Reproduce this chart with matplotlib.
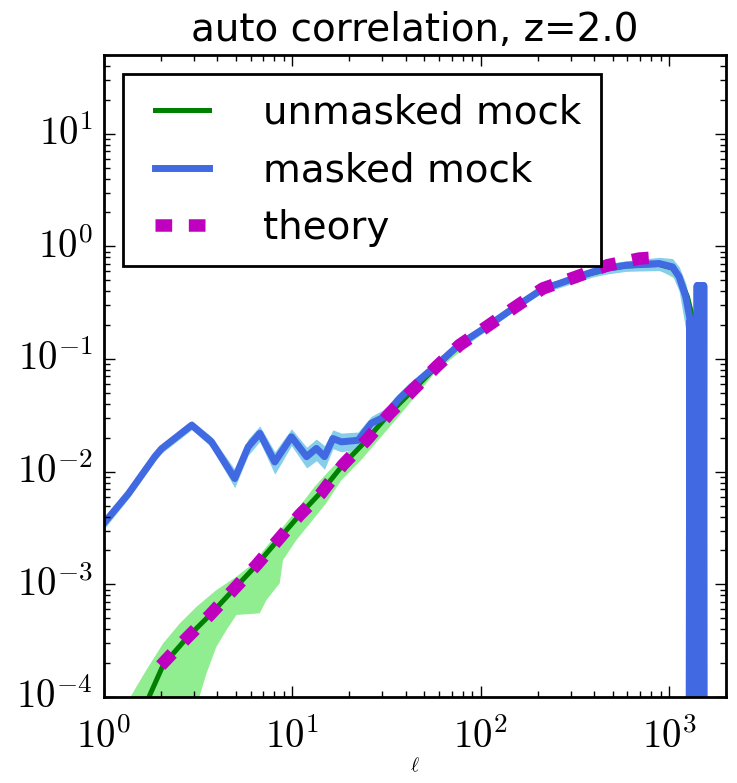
import numpy as np
import matplotlib
matplotlib.use('Agg')
import matplotlib.pyplot as plt
from matplotlib.ticker import FuncFormatter, NullFormatter

plt.style.use('classic')

# unmasked mock (green line)
green_ell = [1.6, 1.75, 2.06, 2.74, 3.65, 4.84, 6.44, 8.23, 10.9, 14.2, 18.5, 24.7,
             32.1, 43.6, 58, 77, 107, 148, 213, 320, 425, 471, 589, 692, 884, 1040,
             1128, 1249, 1327, 1384, 1412]
green_c = [7e-5, 1.04e-4, 1.92e-4, 3.32e-4, 5.35e-4, 8.89e-4, 1.48e-3, 2.39e-3, 4.12e-3,
           6.6e-3, 0.01146, 0.019, 0.0318, 0.053, 0.0853, 0.133, 0.193, 0.281, 0.423,
           0.530, 0.60, 0.63, 0.67, 0.68, 0.69, 0.64, 0.537, 0.356, 0.237, 0.147, 0.091]

# green scatter band: upper edge and lower edge
gup_ell = [1.3, 1.40, 1.68, 2.06, 2.53, 3.10, 3.95, 5.05, 6.18, 7.28, 8.91, 10.9, 13.1,
           16.1, 19.7, 24.2, 30.8, 39.4, 58, 107, 213, 471, 884, 1128, 1249, 1384, 1412]
gup_c = [7e-5, 1.04e-4, 1.74e-4, 2.99e-4, 4.51e-4, 6.33e-4, 8.89e-4, 1.17e-3, 1.53e-3,
         2.16e-3, 3.24e-3, 4.89e-3, 7.35e-3, 0.0107, 0.0150, 0.0219, 0.0340, 0.0530,
         0.092, 0.205, 0.44, 0.70, 0.78, 0.58, 0.40, 0.17, 0.10]
glo_ell = [2.89, 3.23, 3.50, 3.95, 4.47, 5.05, 6.71, 7.28, 8.56, 8.91, 10.5, 12.4, 15.1,
           18.2, 23.2, 29.6, 37.8, 58, 107, 213, 471, 884, 1128, 1249, 1384, 1412]
glo_c = [5.1e-5, 1.04e-4, 1.62e-4, 2.79e-4, 3.94e-4, 5.35e-4, 5.53e-4, 7.26e-4, 1.02e-3,
         1.64e-3, 2.47e-3, 3.48e-3, 5.24e-3, 8.41e-3, 0.0127, 0.0204, 0.0329, 0.078,
         0.18, 0.40, 0.60, 0.62, 0.49, 0.31, 0.12, 0.08]

# masked mock (blue line) with its band
blue_ell = [1.0, 1.35, 1.86, 2.02, 2.92, 3.72, 4.94, 5.82, 6.71, 8.06, 9.88, 11.9, 13.4,
            14.8, 16.4, 18.2, 22.3, 26.2, 30.8, 36.3, 42.7, 58, 77, 107, 148, 213, 261,
            320, 392, 471, 589, 692, 884, 1040, 1128, 1224, 1301, 1355]
blue_c = [3.5e-3, 6.4e-3, 0.0136, 0.0160, 0.0259, 0.0184, 0.0087, 0.0166, 0.0219, 0.0122,
          0.0204, 0.0136, 0.0161, 0.0136, 0.0197, 0.0184, 0.0190, 0.0269, 0.0307, 0.0432,
          0.0566, 0.088, 0.135, 0.193, 0.281, 0.420, 0.469, 0.530, 0.594, 0.640, 0.680,
          0.690, 0.705, 0.658, 0.537, 0.356, 0.207, 0.098]
blue_lo = [3.1e-3, 5.8e-3, 0.0124, 0.0146, 0.0236, 0.0165, 0.0072, 0.0140, 0.0185, 0.0095,
           0.0170, 0.0108, 0.0125, 0.0105, 0.0160, 0.0150, 0.0160, 0.0230, 0.0265, 0.0380,
           0.0510, 0.080, 0.124, 0.178, 0.262, 0.390, 0.430, 0.480, 0.535, 0.570, 0.600,
           0.605, 0.610, 0.550, 0.400, 0.180, 0.006, 1e-6]
blue_hi = [3.9e-3, 7.0e-3, 0.0148, 0.0175, 0.0284, 0.0205, 0.0105, 0.0195, 0.0255, 0.0150,
           0.0240, 0.0165, 0.0195, 0.0170, 0.0235, 0.0220, 0.0225, 0.0310, 0.0360, 0.0490,
           0.0630, 0.097, 0.147, 0.209, 0.302, 0.450, 0.505, 0.575, 0.645, 0.700, 0.745,
           0.765, 0.800, 0.780, 0.660, 0.470, 0.300, 0.150]
# noisy tail of the masked mock near l ~ 1270-1535
tail_ell = [1355, 1365, 1375, 1390, 1405, 1420, 1435, 1450, 1465, 1480, 1495, 1510, 1525, 1535]
tail_c = [0.098, 1e-6, 0.09, 1e-6, 0.45, 1e-6, 0.45, 1e-6, 0.45, 1e-6, 0.45, 1e-6, 0.45, 1e-6]
tail0_ell = [1270, 1285, 1300, 1315, 1330, 1345]
tail0_c = [1e-6, 0.22, 1e-6, 0.16, 1e-6, 0.11]

# theory
theory_ell = [2, 2.74, 3.65, 4.84, 6.44, 8.23, 10.9, 14.2, 18.5, 24.7, 32.8, 43.6, 58, 77,
              107, 148, 213, 320, 471, 692, 940]
theory_c = [1.9e-4, 3.32e-4, 5.35e-4, 8.89e-4, 1.48e-3, 2.39e-3, 4.12e-3, 6.42e-3, 0.01146,
            0.019, 0.0329, 0.053, 0.0853, 0.133, 0.193, 0.281, 0.423, 0.537, 0.681, 0.780,
            0.807]

fig = plt.figure(figsize=(3.685, 3.915), dpi=200, facecolor='white')
ax = fig.add_axes([104 / 737, 1 - 697 / 783, 622 / 737, 642 / 783])
ax.set_xscale('log')
ax.set_yscale('log')

ax.fill(gup_ell + glo_ell[::-1], gup_c + glo_c[::-1], color='lightgreen', lw=0)
ax.plot(green_ell, green_c, color='green', lw=1.8, label='unmasked mock')
ax.fill_between(blue_ell, blue_lo, blue_hi, color='skyblue', lw=0)
ax.plot(blue_ell + tail_ell[1:], blue_c + tail_c[1:], color='royalblue', lw=2.5,
        label='masked mock')
ax.plot(tail0_ell, tail0_c, color='royalblue', lw=2.5)
ax.plot(theory_ell, theory_c, color='m', ls='--', lw=4.5, label='theory')

ax.set_xlim(1, 2000)
ax.set_ylim(1e-4, 50)

fmt = FuncFormatter(lambda v, p: r'$10^{%d}$' % round(np.log10(v)))
for axis in (ax.xaxis, ax.yaxis):
    axis.set_major_formatter(fmt)
    axis.set_minor_formatter(NullFormatter())
ax.tick_params(labelsize=14)
ax.tick_params(axis='x', which='major', pad=7.5)

ax.set_title('auto correlation, z=2.0', fontsize=14)
ax.set_xlabel(r'$\ell$', fontsize=7, labelpad=0)
ax.legend(loc='upper left', fontsize=14, handlelength=2, handletextpad=1.1,
          labelspacing=0.5, borderpad=0.5)

fig.savefig('out.png', dpi=200, facecolor='white')
